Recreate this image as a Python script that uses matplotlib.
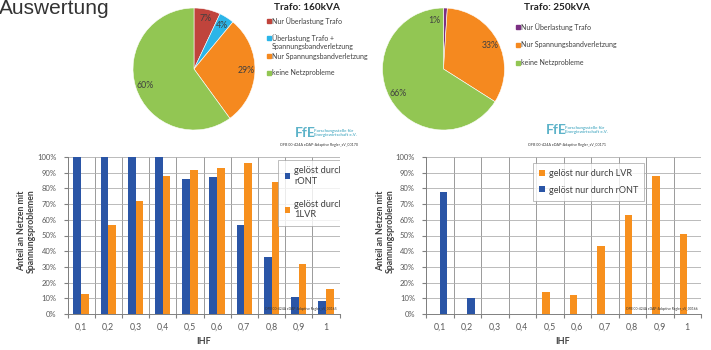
import matplotlib.pyplot as plt
import numpy as np
from matplotlib.patches import Rectangle

plt.rcParams['font.family'] = ['Lato', 'DejaVu Sans']

W, H = 711, 350

# pie data
pie1_labels = ["Nur Überlastung Trafo", "Überlastung Trafo +\nSpannungsbandverletzung",
               "Nur Spannungsbandverletzung", "keine Netzprobleme"]
pie1_values = [7, 4, 29, 60]
pie1_colors = ["#c0443c", "#2bb5e8", "#f5891f", "#92c653"]

pie2_labels = ["Nur Überlastung Trafo", "Nur Spannungsbandverletzung", "keine Netzprobleme"]
pie2_values = [1, 33, 66]
pie2_colors = ["#7b2f83", "#f5891f", "#92c653"]

# bar data
ihf = ["0,1", "0,2", "0,3", "0,4", "0,5", "0,6", "0,7", "0,8", "0,9", "1"]
ront_1 = [100, 100, 100, 100, 86, 87, 57, 36, 11, 8]
lvr_1 = [13, 57, 72, 88, 92, 93, 96, 84, 32, 16]
lvr_2 = [0, 0, 0, 0, 14, 12, 43, 63, 88, 51]
ront_2 = [78, 10, 0, 0, 0, 0, 0, 0, 0, 0]

BLUE = "#2a55a6"
ORANGE = "#f7901e"
TXT = "#404040"


def box(l, t, r, b):
    return [l / W, 1 - b / H, (r - l) / W, (b - t) / H]


def fx(x):
    return x / W


def fy(y):
    return 1 - y / H


fig = plt.figure(figsize=(W / 100, H / 100), dpi=100)

fig.text(fx(-1), fy(14.5), "Auswertung", fontsize=15, family="Liberation Sans",
         color="#333333", va="baseline")


def pie_panel(cx, cy, r, values, colors):
    ax = fig.add_axes(box(cx - r, cy - r, cx + r, cy + r))
    wedges, texts, pcts = ax.pie(values, colors=colors, startangle=90, counterclock=False,
                                 autopct=lambda p: f"{p:.0f}%", pctdistance=0.85,
                                 wedgeprops=dict(edgecolor="white", linewidth=0.4),
                                 textprops=dict(fontsize=6.3, color=TXT))
    for w in wedges:
        w.set_clip_on(False)
    ax.set_xlim(-1, 1)
    ax.set_ylim(-1, 1)
    return ax, pcts


def pie_legend(title, tx, labels, colors, sq_x, ys):
    fig.text(fx(tx), fy(8), title, fontsize=7.2, fontweight="bold", color="#222222",
             ha="center", va="center")
    for lab, col, y in zip(labels, colors, ys):
        fig.patches.append(Rectangle((fx(sq_x), fy(y + 2)), 4 / W, 4 / H, color=col,
                                     transform=fig.transFigure))
        for i, line in enumerate(lab.split("\n")):
            fig.text(fx(sq_x + 5.5), fy(y + 9 * i), line, fontsize=5, color=TXT,
                     va="center", ha="left")


def logo(x, y, caption, cap_x):
    fig.text(fx(x), fy(y), "FfE", fontsize=10, fontweight="bold", color="#5db3c9",
             va="center", ha="left")
    fig.text(fx(x + 19), fy(y), "Forschungsstelle für\nEnergiewirtschaft e.V.", fontsize=3.2,
             fontweight="bold", color="#5db3c9", va="center", ha="left", linespacing=1.0)
    fig.text(fx(cap_x), fy(145), caption, fontsize=2.6, color="#333333", va="center",
             ha="left")


ax, pcts = pie_panel(194, 69, 61, pie1_values, pie1_colors)
pie_legend("Trafo: 160kVA", 306.5, pie1_labels, pie1_colors, 266.5, [21, 38, 56, 73])
logo(295, 133, "OFB 00-424A eDAP-Adaptive Regler_sV_00170", 280)

ax, pcts = pie_panel(443.5, 69, 61, pie2_values, pie2_colors)
pcts[0].set_position((-0.157, 0.79))
pie_legend("Trafo: 250kVA", 556.5, pie2_labels, pie2_colors, 515.5, [27, 45, 63])
logo(546, 130, "OFB 00-424A eDAP-Adaptive Regler_sV_00171", 528)


def bar_panel(left, right, first, second, colors, labels, leg_anchor, leg_font, leg_space,
              label_x, mark):
    ax = fig.add_axes(box(left, 157, right, 314))
    x = np.arange(len(ihf))
    w = 0.28
    b1 = ax.bar(x - w / 2, first, w, color=colors[0], linewidth=0)
    b2 = ax.bar(x + w / 2, second, w, color=colors[1], linewidth=0)
    ax.set_xlim(-0.5, len(ihf) - 0.5)
    ax.set_ylim(0, 100)
    ax.set_yticks(np.arange(0, 101, 10))
    ax.set_yticklabels([f"{v}%" for v in range(0, 101, 10)])
    ax.set_xticks(np.arange(-0.5, len(ihf), 1))
    ax.set_xticklabels([])
    ax.set_xticks(x, minor=True)
    ax.set_xticklabels(ihf, minor=True)
    ax.tick_params(axis="x", which="major", length=3, color="#808080")
    ax.tick_params(axis="x", which="minor", length=0, pad=6.5, labelsize=6.3,
                   labelcolor="#595959")
    ax.tick_params(axis="y", length=3, color="#808080", pad=5, labelsize=5.5,
                   labelcolor="#595959")
    ax.grid(True, axis="y", color="#b0b0b0", linewidth=0.6)
    ax.grid(True, axis="x", which="major", color="#8a8a8a", linewidth=0.6)
    ax.set_axisbelow(True)
    for s in ["top", "right"]:
        ax.spines[s].set_visible(False)
    for s in ["left", "bottom"]:
        ax.spines[s].set_color("#808080")
        ax.spines[s].set_linewidth(0.7)
    leg = ax.legend([b1, b2], labels, loc="upper left", bbox_to_anchor=leg_anchor,
                    fontsize=leg_font, frameon=True, fancybox=False, edgecolor="#a0a0a0",
                    handlelength=0.6, handleheight=0.6, handletextpad=0.45,
                    labelspacing=leg_space, borderpad=0.7, borderaxespad=0)
    leg.get_frame().set_linewidth(0.6)
    # the legend box runs past the plot area and is cut at its right edge
    leg.get_frame().set_clip_box(ax.bbox)
    leg.get_frame().set_clip_on(True)
    for t in leg.get_texts():
        t.set_color(TXT)
        t.set_clip_box(ax.bbox)
        t.set_clip_on(True)
    fig.text(fx(label_x), fy(342), "IHF", fontsize=6.5, fontweight="bold", color=TXT,
             ha="center", va="center")
    fig.text(fx(left - 41), fy(231), "Anteil an Netzen mit\nSpannungsproblemen", fontsize=6.3,
             fontweight="bold", color=TXT, rotation=90, ha="center", va="center",
             multialignment="center", linespacing=1.1)
    fig.text(fx(right - 3), fy(309), mark, fontsize=2.4, color="#333333", ha="right",
             va="center")
    return ax


bar_panel(67.5, 339.5, ront_1, lvr_1, [BLUE, ORANGE],
          ["gelöst durch\nrONT", "gelöst durch\n1LVR"], (0.774, 0.981), 6.7, 1.5, 204,
          "OFB 00-424A eDAP-Adaptive Regler_sV_00165")
bar_panel(426, 701, lvr_2, ront_2, [ORANGE, BLUE],
          ["gelöst nur durch LVR", "gelöst nur durch rONT"], (0.389, 0.962), 6.5, 0.8, 563,
          "OFB 00-424A eDAP-Adaptive Regler_sV_00166")

fig.savefig("out.png", dpi=100, facecolor="white")
